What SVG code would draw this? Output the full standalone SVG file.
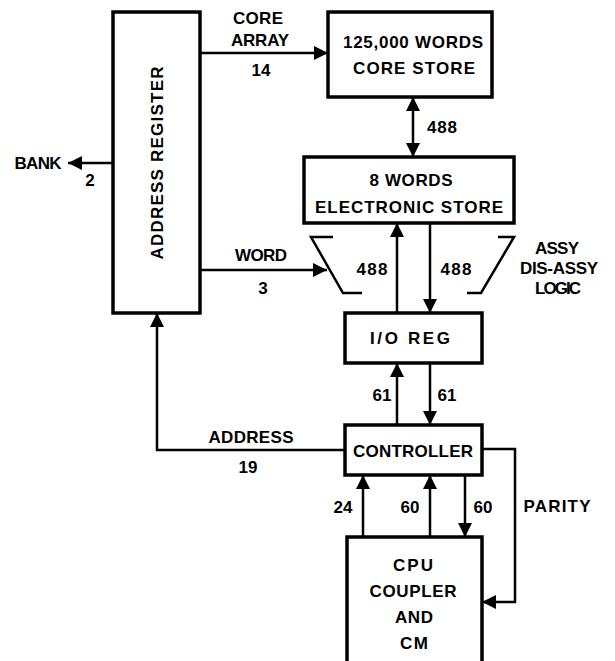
<svg xmlns="http://www.w3.org/2000/svg" width="615" height="661" viewBox="0 0 615 661">
<style>
.box{fill:#fff;stroke:#000;stroke-width:3.5}
.ln{fill:none;stroke:#000;stroke-width:2.5}
text{font-family:"Liberation Sans",Arial,sans-serif;font-weight:bold;font-size:17px;fill:#000;text-anchor:middle}
</style>
<defs>
<marker id="ah" viewBox="0 0 14 14" refX="14" refY="7" markerWidth="14" markerHeight="14" markerUnits="userSpaceOnUse" orient="auto-start-reverse">
<path d="M0,0 L14,7 L0,14 z" fill="#000"/>
</marker>
</defs>
<rect width="615" height="661" fill="#fff"/>

<g id="connectors">
<path class="ln" d="M200,53 H328" marker-end="url(#ah)"/>
<path class="ln" d="M413,97 V157" marker-start="url(#ah)" marker-end="url(#ah)"/>
<path class="ln" d="M113,163 H68" marker-end="url(#ah)"/>
<path class="ln" d="M200,270 H327" marker-end="url(#ah)"/>
<path class="ln" d="M397,313 V223" marker-end="url(#ah)"/>
<path class="ln" d="M430,223 V313" marker-end="url(#ah)"/>
<path class="ln" d="M397,425 V363" marker-end="url(#ah)"/>
<path class="ln" d="M430,363 V425" marker-end="url(#ah)"/>
<path class="ln" d="M345,450 H157 V313" marker-end="url(#ah)"/>
<path class="ln" d="M482,449 H515 V602 H482" marker-end="url(#ah)"/>
<path class="ln" d="M363,537 V475" marker-end="url(#ah)"/>
<path class="ln" d="M430,537 V475" marker-end="url(#ah)"/>
<path class="ln" d="M465,475 V537" marker-end="url(#ah)"/>
</g>

<g id="labels">
<text x="258" y="24" textLength="50" lengthAdjust="spacing">CORE</text>
<text x="260" y="46" textLength="58" lengthAdjust="spacing">ARRAY</text>
<text x="261" y="76">14</text>
<text x="442" y="133" textLength="30" lengthAdjust="spacing">488</text>
<text x="38" y="169" textLength="47" lengthAdjust="spacing">BANK</text>
<text x="90" y="186">2</text>
<text x="261" y="261" textLength="52" lengthAdjust="spacing">WORD</text>
<text x="263" y="294">3</text>
<text x="372" y="275" textLength="31" lengthAdjust="spacing">488</text>
<text x="456" y="275" textLength="31" lengthAdjust="spacing">488</text>
<text x="382" y="401">61</text>
<text x="447" y="401">61</text>
<text x="251" y="443" textLength="85" lengthAdjust="spacing">ADDRESS</text>
<text x="248" y="473">19</text>
<text x="343" y="513">24</text>
<text x="410" y="513">60</text>
<text x="483" y="513">60</text>
<text x="557" y="512" textLength="67" lengthAdjust="spacing">PARITY</text>
</g>

<g id="address-register">
<rect class="box" x="113" y="12" width="87" height="301"/>
<text transform="translate(163,163) rotate(-90)" textLength="193" lengthAdjust="spacing">ADDRESS REGISTER</text>
</g>

<g id="core-store">
<rect class="box" x="328" y="12" width="164" height="85"/>
<text x="413" y="48" textLength="140" lengthAdjust="spacing">125,000 WORDS</text>
<text x="414" y="74" textLength="122" lengthAdjust="spacing">CORE STORE</text>
</g>

<g id="electronic-store">
<rect class="box" x="304" y="157" width="210" height="66"/>
<text x="411" y="186" textLength="83" lengthAdjust="spacing">8 WORDS</text>
<text x="409" y="213" textLength="188" lengthAdjust="spacing">ELECTRONIC STORE</text>
</g>

<g id="assy-logic">
<path class="ln" d="M333,237 H311 L343,293 H362"/>
<path class="ln" d="M498,237 H514 L481,293 H467"/>
<text x="557" y="254" textLength="44" lengthAdjust="spacing">ASSY</text>
<text x="559" y="274" textLength="78" lengthAdjust="spacing">DIS-ASSY</text>
<text x="558" y="294" textLength="46" lengthAdjust="spacing">LOGIC</text>
</g>

<g id="io-reg">
<rect class="box" x="345" y="313" width="137" height="50"/>
<text x="410" y="344" textLength="80" lengthAdjust="spacing">I/O REG</text>
</g>

<g id="controller">
<rect class="box" x="345" y="425" width="137" height="50"/>
<text x="413" y="457" textLength="120" lengthAdjust="spacing">CONTROLLER</text>
</g>

<g id="cpu">
<path class="box" d="M347,680 V537 H482 V680"/>
<text x="413" y="571" textLength="40" lengthAdjust="spacing">CPU</text>
<text x="413" y="597" textLength="87" lengthAdjust="spacing">COUPLER</text>
<text x="414" y="623" textLength="38" lengthAdjust="spacing">AND</text>
<text x="414" y="649" textLength="28" lengthAdjust="spacing">CM</text>
</g>
</svg>
